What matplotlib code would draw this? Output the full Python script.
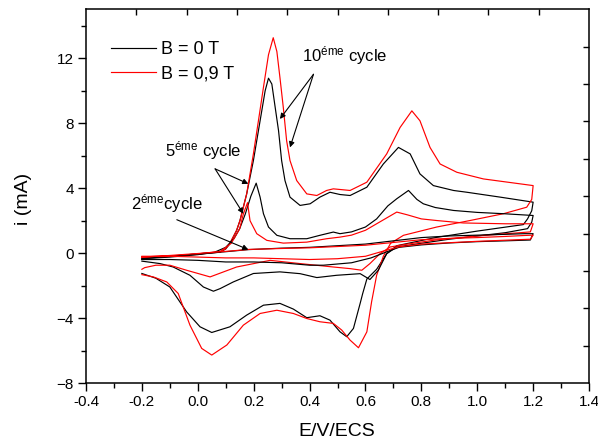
import matplotlib
matplotlib.use('Agg')
import matplotlib.pyplot as plt
from matplotlib.ticker import MultipleLocator, FormatStrFormatter

plt.rcParams['font.family'] = ['Liberation Sans', 'DejaVu Sans']
plt.rcParams['mathtext.fontset'] = 'custom'
plt.rcParams['mathtext.rm'] = 'Liberation Sans'
plt.rcParams['mathtext.it'] = 'Liberation Sans:italic'

# voltammograms, potential E (V/ECS) and current i (mA)
# B = 0 T, 10th cycle
e_b10 = [-0.20, -0.10, 0.00, 0.08, 0.10, 0.115, 0.139, 0.151, 0.175, 0.199, 0.223, 0.241, 0.253,
         0.265, 0.277, 0.289, 0.300, 0.312, 0.330, 0.366, 0.402, 0.437, 0.473, 0.509, 0.545,
         0.605, 0.664, 0.718, 0.760, 0.795, 0.843, 0.915, 0.963, 1.082, 1.200,
         1.195, 1.180, 1.165, 1.000, 0.850, 0.712, 0.676, 0.640, 0.605, 0.590, 0.581, 0.557,
         0.533, 0.509, 0.473, 0.437, 0.390, 0.342, 0.294, 0.235, 0.175, 0.115, 0.050, 0.008,
         -0.040, -0.100, -0.150, -0.200]
i_b10 = [-0.30, -0.20, -0.08, 0.05, 0.25, 0.58, 1.39, 2.00, 3.64, 5.69, 8.14, 9.98, 10.76,
         10.40, 8.96, 7.53, 5.69, 4.46, 3.44, 2.93, 3.03, 3.44, 3.74, 3.60, 3.54,
         4.05, 5.48, 6.50, 6.10, 4.87, 4.15, 3.85, 3.74, 3.44, 3.13,
         2.60, 2.10, 1.75, 1.35, 0.95, 0.45, -0.04, -1.00, -1.60, -2.50, -3.10, -4.64,
         -5.15, -4.85, -4.13, -3.86, -3.98, -3.45, -3.10, -3.21, -3.82, -4.54, -4.89, -4.54,
         -3.62, -2.09, -1.55, -1.26]

# B = 0.9 T, 10th cycle
e_r10 = [-0.20, -0.10, 0.00, 0.08, 0.10, 0.115, 0.139, 0.151, 0.175, 0.199, 0.217, 0.235, 0.253,
         0.270, 0.283, 0.294, 0.306, 0.318, 0.330, 0.354, 0.390, 0.426, 0.461, 0.485, 0.545,
         0.605, 0.676, 0.724, 0.766, 0.795, 0.831, 0.867, 0.927, 1.022, 1.200,
         1.195, 1.177, 1.094, 0.974, 0.855, 0.736, 0.690, 0.664, 0.640, 0.622, 0.605, 0.575,
         0.545, 0.515, 0.485, 0.437, 0.390, 0.342, 0.283, 0.223, 0.163, 0.104, 0.050, 0.014,
         -0.028, -0.070, -0.111, -0.159, -0.200]
i_r10 = [-0.28, -0.18, -0.06, 0.06, 0.27, 0.60, 1.40, 2.00, 3.64, 6.10, 8.14, 10.20, 12.20,
         13.25, 12.40, 10.80, 8.96, 6.90, 5.69, 4.46, 3.64, 3.54, 3.85, 3.95, 3.85,
         4.36, 6.10, 7.73, 8.75, 8.14, 6.50, 5.48, 4.97, 4.56, 4.15,
         3.30, 2.82, 2.42, 2.00, 1.60, 1.09, 0.60, -0.20, -1.37, -3.00, -4.85, -5.83,
         -5.36, -4.74, -4.33, -4.23, -4.03, -3.72, -3.52, -3.72, -4.44, -5.66, -6.28, -5.87,
         -4.44, -2.49, -1.78, -1.47, -1.33]

# B = 0 T, 5th cycle
e_b5 = [-0.20, -0.10, 0.00, 0.06, 0.10, 0.13, 0.15, 0.17, 0.19, 0.209, 0.223, 0.235, 0.253,
        0.283, 0.330, 0.390, 0.437, 0.485, 0.509, 0.550, 0.600, 0.640, 0.680, 0.712, 0.754,
        0.784, 0.807, 0.850, 0.915, 1.000, 1.094, 1.200,
        1.195, 1.180, 1.100, 1.000, 0.900, 0.800, 0.712, 0.676, 0.646, 0.616, 0.581, 0.497,
        0.426, 0.366, 0.294, 0.199, 0.127, 0.080, 0.056, 0.020, -0.028, -0.088, -0.135, -0.200]
i_b5 = [-0.35, -0.25, -0.10, 0.05, 0.35, 0.90, 1.50, 2.40, 3.50, 4.30, 3.44, 2.42, 1.60,
        1.09, 0.88, 0.88, 1.09, 1.29, 1.19, 1.30, 1.60, 2.10, 2.90, 3.34, 3.85,
        3.30, 3.03, 2.80, 2.62, 2.50, 2.42, 2.31,
        1.90, 1.50, 1.25, 1.05, 0.85, 0.60, 0.37, -0.04, -1.06, -1.63, -1.27, -1.37,
        -1.51, -1.27, -1.16, -1.26, -1.78, -2.19, -2.35, -2.09, -1.37, -0.86, -0.65, -0.50]

# B = 0.9 T, 5th cycle
e_r5 = [-0.20, -0.10, 0.00, 0.08, 0.12, 0.15, 0.163, 0.178, 0.187, 0.211, 0.247, 0.306,
        0.390, 0.461, 0.509, 0.550, 0.600, 0.650, 0.712, 0.750, 0.800, 0.855, 0.950, 1.100,
        1.200,
        1.190, 1.000, 0.850, 0.750, 0.688, 0.652, 0.616, 0.587, 0.545, 0.485, 0.366, 0.259,
        0.139, 0.044, -0.040, -0.100, -0.150, -0.190, -0.200]
i_r5 = [-0.30, -0.20, -0.05, 0.10, 0.60, 1.50, 2.40, 3.10, 1.99, 1.19, 0.78, 0.61,
        0.67, 0.88, 0.98, 1.10, 1.40, 1.90, 2.52, 2.35, 2.10, 2.00, 1.85, 1.80,
        1.80,
        1.30, 1.05, 0.80, 0.55, 0.37, -0.04, -0.65, -1.06, -0.96, -0.86, -0.65, -0.45,
        -0.86, -1.47, -1.06, -0.75, -0.75, -0.90, -1.00]

# B = 0 T, 2nd cycle
e_b2 = [-0.20, -0.10, 0.00, 0.10, 0.181, 0.30, 0.40, 0.50, 0.60, 0.70, 0.80, 0.90, 1.00,
        1.10, 1.17, 1.20,
        1.19, 1.10, 1.00, 0.90, 0.80, 0.72, 0.68, 0.62, 0.55, 0.45, 0.40, 0.30, 0.20, 0.10,
        0.00, -0.10, -0.20]
i_b2 = [-0.35, -0.20, -0.05, 0.08, 0.21, 0.30, 0.35, 0.45, 0.55, 0.75, 0.95, 1.05, 1.10,
        1.15, 1.19, 1.19,
        0.80, 0.75, 0.70, 0.62, 0.50, 0.35, 0.10, -0.30, -0.60, -0.75, -0.75, -0.60, -0.55,
        -0.55, -0.45, -0.40, -0.40]

# B = 0.9 T, 2nd cycle
e_r2 = [-0.20, -0.10, 0.00, 0.10, 0.181, 0.30, 0.40, 0.50, 0.60, 0.70, 0.80, 0.90, 1.00,
        1.10, 1.17, 1.20,
        1.19, 1.00, 0.80, 0.72, 0.66, 0.60, 0.50, 0.40, 0.30, 0.20, 0.10, 0.00, -0.10, -0.20]
i_r2 = [-0.25, -0.15, -0.03, 0.10, 0.22, 0.28, 0.32, 0.40, 0.48, 0.65, 0.82, 0.90, 0.95,
        1.02, 1.08, 1.10,
        0.85, 0.72, 0.55, 0.38, 0.10, -0.20, -0.35, -0.40, -0.35, -0.30, -0.30, -0.25, -0.20,
        -0.20]

fig = plt.figure(figsize=(5.98, 4.4), dpi=100)
ax = fig.add_axes([0.1438, 0.1295, 0.8412, 0.8494])

lw = 0.85
ax.plot(e_b10, i_b10, color='black', lw=lw, label='B = 0 T')
ax.plot(e_r10, i_r10, color='red', lw=lw, label='B = 0,9 T')
ax.plot(e_b5, i_b5, color='black', lw=lw)
ax.plot(e_r5, i_r5, color='red', lw=lw)
ax.plot(e_b2, i_b2, color='black', lw=lw)
ax.plot(e_r2, i_r2, color='red', lw=lw)

ax.set_xlim(-0.4, 1.4)
ax.set_ylim(-8, 15)
ax.xaxis.set_major_locator(MultipleLocator(0.2))
ax.xaxis.set_minor_locator(MultipleLocator(0.1))
ax.yaxis.set_major_locator(MultipleLocator(4))
ax.yaxis.set_minor_locator(MultipleLocator(2))
ax.xaxis.set_major_formatter(FormatStrFormatter('%.1f'))
ax.tick_params(which='major', direction='out', length=5.8, width=1.0, labelsize=11,
               top=False, right=False, pad=3)
ax.tick_params(which='minor', direction='out', length=3.6, width=1.0, top=False, right=False)
for s in ax.spines.values():
    s.set_linewidth(1.1)

ax.set_xlabel('E/V/ECS', fontsize=14)
ax.set_ylabel('i (mA)', fontsize=14)
ax.xaxis.set_label_coords(0.498, -0.106)
ax.yaxis.set_label_coords(-0.107, 0.492)

# top and right frame ticks (own scale, ten divisions)
ax2 = fig.add_axes(ax.get_position(), frameon=False)
ax2.set_xlim(0, 10)
ax2.set_ylim(0, 10)
ax2.set_xticks(range(1, 10))
ax2.set_yticks(range(1, 10))
ax2.tick_params(direction='in', length=4.5, width=1.0, top=True, right=True,
                bottom=False, left=False, labelbottom=False, labelleft=False)
ax2.patch.set_visible(False)

ax.legend(loc='upper left', bbox_to_anchor=(0.018, 0.958), frameon=False,
          fontsize=13, handlelength=2.5, handletextpad=0.28, labelspacing=0.42)

arrow = dict(arrowstyle='-|>', color='black', lw=0.8, mutation_scale=8, shrinkA=0, shrinkB=0)
ax.annotate('', xy=(0.294, 8.25), xytext=(0.414, 11.0), arrowprops=arrow)
ax.annotate('', xy=(0.33, 6.5), xytext=(0.414, 11.0), arrowprops=arrow)
ax.text(0.372, 12.15, '10$^{\\mathrm{éme}}$ cycle', fontsize=12, va='center')

ax.annotate('', xy=(0.181, 4.26), xytext=(0.062, 5.18), arrowprops=arrow)
ax.annotate('', xy=(0.163, 2.42), xytext=(0.062, 5.18), arrowprops=arrow)
ax.text(-0.117, 6.3, '5$^{\\mathrm{éme}}$ cycle', fontsize=12, va='center')

ax.annotate('', xy=(0.181, 0.21), xytext=(-0.075, 2.05), arrowprops=arrow)
ax.text(-0.24, 3.05, '2$^{\\mathrm{éme}}$cycle', fontsize=12, va='center')

fig.savefig('out.png', dpi=100)
